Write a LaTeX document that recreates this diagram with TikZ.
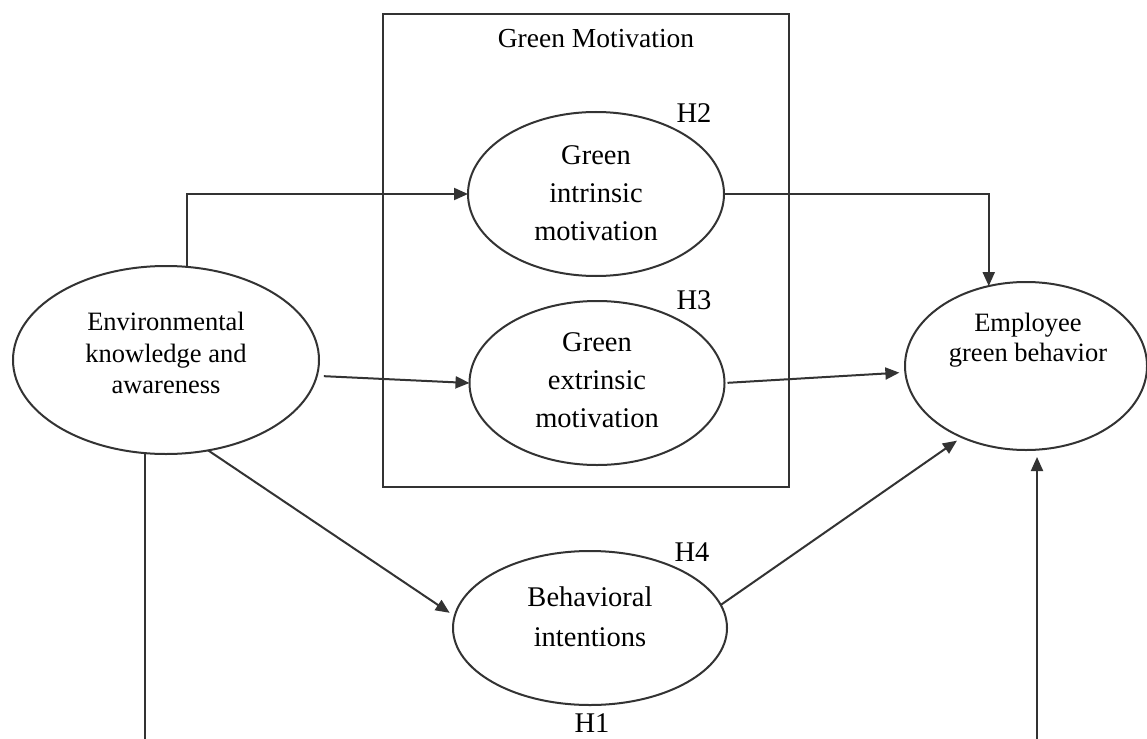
\documentclass[tikz,border=0pt]{standalone}
\usepackage{fontspec}
\setmainfont{Liberation Serif}
\usetikzlibrary{shapes.geometric,arrows.meta}
\begin{document}
\begin{tikzpicture}[x=1pt,y=-1pt,
  line/.style={draw=black!80,line width=2pt},
  arr/.style={line,-{Triangle[length=14pt,width=12pt]}},
  oval/.style={ellipse,draw=black!80,line width=2pt,inner sep=0pt,outer sep=0pt},
  small/.style={font=\fontsize{26.5pt}{31.5pt}\selectfont,align=center,inner sep=0pt},
  big/.style={font=\fontsize{28.5pt}{38pt}\selectfont,align=center,inner sep=0pt},
  hlab/.style={font=\fontsize{28.5pt}{34pt}\selectfont,inner sep=0pt}
]
\useasboundingbox (0,0) rectangle (1147,738);
\fill[white] (0,0) rectangle (1147,738);

% Green Motivation box
\draw[line] (383,14) rectangle (789,487);
\node[font=\fontsize{27.5pt}{33pt}\selectfont,inner sep=0pt] (gmt) at (596,39) {Green Motivation};

% ellipses
\node[oval,minimum width=306pt,minimum height=188pt] (env) at (166,360) {};
\node[small] (envt) at (166,353) {Environmental\\knowledge and\\awareness};

\node[oval,minimum width=256pt,minimum height=164pt] (gi) at (596,194) {};
\node[big] (git) at (596,193) {Green\\intrinsic\\motivation};

\node[oval,minimum width=255pt,minimum height=164pt] (ge) at (597,383) {};
\node[big] (get) at (597,380) {Green\\extrinsic\\motivation};

\node[oval,minimum width=242pt,minimum height=168pt] (emp) at (1026,366) {};
\node[font=\fontsize{26.5pt}{30pt}\selectfont,align=center,inner sep=0pt] (empt) at (1028,340) {Employee\\green behavior};

\node[oval,minimum width=274pt,minimum height=154pt] (bi) at (590,628) {};
\node[font=\fontsize{28.5pt}{40pt}\selectfont,align=center,inner sep=0pt] (bit) at (590,617) {Behavioral\\intentions};

% hypothesis labels
\node[hlab] (h2) at (694,113) {H2};
\node[hlab] (h3) at (694,300) {H3};
\node[hlab] (h4) at (692,552) {H4};
\node[hlab] (h1) at (592,723) {H1};

% free ends at the bottom edge
\coordinate (bot) at (0,742);
\coordinate (br) at (1037,742);

% connectors
\draw[arr] (env.77) |- (gi.west);
\draw[arr] (gi.east) -| (emp.115);
\draw[arr,shorten <=7pt] (env.-6) -- (ge.west);
\draw[arr,shorten <=3pt,shorten >=6pt] (ge.east) -- (emp.183);
\draw[arr,shorten >=6pt] (env.-65.7) -- (bi.175.2);
\draw[arr,shorten >=6pt] (bi.10) -- (emp.228.6);
\draw[line] (env.257) -- (env.257 |- bot);
\draw[arr,shorten >=7pt] (br) -- (br |- emp.south);
\end{tikzpicture}
\end{document}
